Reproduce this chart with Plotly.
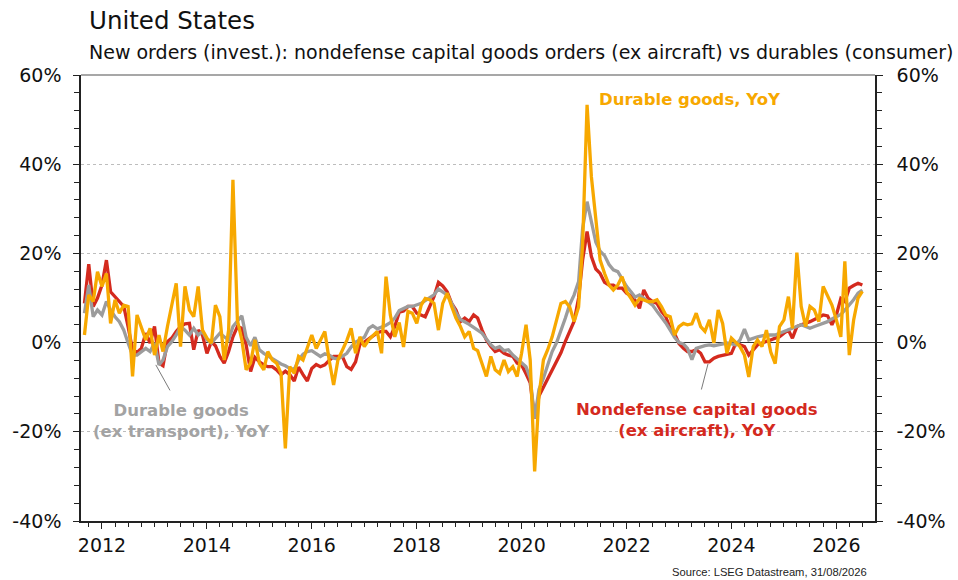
import pandas as pd
import plotly.graph_objects as go

# ---------------- data (monthly YoY %, Sep 2011 .. Jul 2026) ----------------
start_month = "2011-09-01"

nondef_capgoods = [  # Nondefense capital goods (ex aircraft), YoY
    8.8, 17.6, 8.1, 10.0,                                              # 2011 Sep-Dec
    12.9, 18.5, 11.4, 10.3, 9.2, 8.1, 3.6, -1.6, -2.2, -1.3, 2.1, -0.1,  # 2012
    3.6, -4.6, -5.2, 0.2, 1.0, 2.5, 3.6, 4.2, 4.3, -1.6, 2.8, 1.7,      # 2013
    -2.4, 0.2, -0.7, -3.1, -4.6, -2.0, 1.3, 3.6, 3.2, -0.5, -6.5, -3.3, # 2014
    -4.3, -5.0, -5.4, -5.4, -6.1, -7.2, -6.4, -7.2, -8.6, -5.5, -7.2, -8.6,  # 2015
    -5.8, -4.9, -5.4, -5.0, -4.0, -3.1, -3.1, -3.1, -5.4, -6.0, -4.3, -0.4,  # 2016
    0.1, 0.9, 1.6, 2.2, 2.5, 2.5, 1.3, 3.6, 6.8, 7.1, 8.1, 8.1,        # 2017
    6.6, 6.2, 5.8, 8.1, 10.3, 13.5, 12.7, 11.4, 8.8, 7.3, 4.7, 5.5,    # 2018
    4.7, 6.2, 5.5, 2.8, 0.6, -0.9, -2.0, -1.6, -2.4, -2.8, -3.1, -4.6, # 2019
    -5.0, -7.0, -9.0, -17.0, -12.0, -10.0, -8.2, -6.3, -4.2, -2.3, 0.3, 2.5,  # 2020
    4.8, 10.0, 18.5, 24.9, 19.3, 16.5, 15.5, 13.5, 12.9, 12.9, 12.2, 12.2,    # 2021
    11.1, 10.5, 9.5, 7.7, 11.8, 9.9, 9.2, 8.8, 7.0, 5.8, 3.2, 2.0,     # 2022
    -0.2, -1.3, -2.0, -2.0, -1.6, -2.4, -4.3, -4.3, -3.5, -3.1, -2.8, -2.6,  # 2023
    -2.4, -0.1, -0.5, -0.9, -2.8, -1.6, -0.5, -0.1, 0.2, 0.6, 1.0, 1.3,      # 2024
    2.1, 2.8, 1.0, 3.6, 4.0, 4.3, 4.7, 5.2, 5.8, 6.2, 6.0, 4.0,        # 2025
    6.2, 9.9, 9.2, 12.2, 12.8, 13.3, 12.9,                              # 2026 Jan-Jul
]

durables_ex_transport = [  # Durable goods (ex transport), YoY
    6.6, 12.9, 5.8, 7.3,
    6.2, 9.2, 7.3, 5.8, 4.7, 2.8, -0.1, -2.8, -2.8, -2.0, -1.3, -2.0,
    -0.1, -5.0, -3.9, -0.9, 0.2, 1.7, 3.6, 2.8, 1.7, 3.2, 1.7, 2.5,
    0.6, -0.1, 1.0, 2.1, 1.3, 0.6, 3.6, 4.7, 6.0, 1.2, -0.7, 1.2,
    -1.6, -2.4, -3.0, -3.5, -4.1, -4.8, -5.2, -5.8, -6.0, -3.9, -2.6, -2.0,
    -1.8, -2.5, -3.1, -2.5, -2.8, -3.5, -3.7, -3.1, -2.4, -1.0, 0.1, 0.6,
    1.2, 3.2, 3.8, 3.1, 3.4, 3.9, 4.5, 5.5, 7.2, 7.7, 8.1, 8.1,
    8.4, 8.8, 9.4, 10.0, 10.7, 12.0, 11.4, 10.7, 8.8, 6.7, 5.2, 4.7,
    4.1, 3.4, 2.8, 2.1, 0.8, -0.5, -1.3, -0.9, -1.8, -1.6, -2.8, -3.7,
    -4.5, -5.4, -8.0, -17.0, -10.5, -8.0, -5.0, -2.0, 0.0, 2.5, 5.5, 8.5,
    10.7, 13.7, 25.6, 31.6, 27.0, 22.5, 20.5, 19.5, 17.5, 16.3, 15.9, 14.1,
    12.6, 11.4, 10.2, 10.7, 9.9, 9.2, 8.4, 7.0, 5.8, 4.4, 2.8, 1.2,
    0.0, -0.3, -1.3, -3.8, -1.3, -0.9, -0.7, -0.5, -0.7, -0.5, -0.3, -0.1,
    -0.3, -0.5, 0.6, 3.0, 0.6, 1.0, 1.3, 1.5, 1.7, 1.7, 1.7, 2.1,
    2.5, 2.8, 3.2, 3.6, 4.0, 3.6, 3.2, 3.6, 4.0, 4.4, 4.7, 5.3,
    5.8, 6.3, 7.3, 8.5, 9.6, 11.1, 11.8,
]

durables = [  # Durable goods, YoY
    1.7, 10.7, 9.2, 15.9,
    12.6, 15.5, 4.3, 9.6, 6.6, 8.4, 8.1, -7.6, 6.2, 3.6, 0.6, 3.2,
    -2.8, 1.7, -2.0, 3.6, 8.1, 13.3, -0.9, 12.6, 7.3, 5.8, 12.6, 2.8,
    1.0, -0.1, 8.4, 5.8, -3.9, 2.8, 36.5, 5.0, 0.6, -6.1, -4.6, 0.6,
    -4.6, -6.1, -2.0, -3.9, -4.6, -6.9, -23.7, -5.4, -6.9, -3.1, -3.9, -1.0,
    1.7, -1.3, 0.5, 2.5, -3.9, -9.5, -3.9, -1.6, 0.5, 3.2, -2.4, 1.3,
    -0.9, 0.6, 1.5, 2.5, -2.4, 14.8, 6.2, 1.3, 4.5, -1.0, 7.0, 6.6,
    4.3, 8.4, 9.9, 9.6, 8.8, 2.8, 8.8, 11.1, 8.1, 5.5, 3.6, 1.3,
    2.5, -1.3, -1.8, -4.6, -7.6, -3.1, -6.1, -6.9, -3.9, -6.5, -5.4, -7.6,
    -2.4, 4.0, -3.9, -28.9, -12.0, -3.9, -1.6, 1.3, 5.1, 8.8, 9.2, 8.0,
    4.7, 8.0, 22.0, 53.3, 37.2, 27.5, 18.5, 15.5, 12.9, 11.8, 12.9, 14.8,
    11.4, 9.9, 8.4, 9.9, 9.6, 9.2, 9.2, 9.6, 8.1, 6.2, 5.8, 1.7,
    3.6, 4.3, 4.0, 4.2, 6.6, 3.6, 2.5, 5.1, -0.1, 7.3, 4.3, -2.4,
    1.0, -0.1, -0.9, -2.8, -7.7, -0.9, 0.6, -0.9, 2.8, -2.1, -4.7, 3.6,
    5.1, 10.3, 3.2, 20.2, 8.1, 3.6, 8.1, 7.3, 4.7, 12.6, 10.3, 8.4,
    5.1, 1.3, 18.2, -2.8, 5.0, 10.0, 11.5,
]

y_ticks = [-40, -20, 0, 20, 40, 60]
y_tick_labels = ["-40%", "-20%", "0%", "20%", "40%", "60%"]

dates = pd.date_range(start=start_month, periods=len(durables), freq="MS")

RED = "#D42A1E"
GRAY = "#9C9C9C"
ORANGE = "#F7A800"
FONT = "DejaVu Sans"

fig = go.Figure()
fig.add_trace(go.Scatter(x=dates, y=nondef_capgoods, mode="lines",
                         line=dict(color=RED, width=3.3), yaxis="y",
                         name="Nondefense capital goods (ex aircraft), YoY"))
fig.add_trace(go.Scatter(x=dates, y=durables_ex_transport, mode="lines",
                         line=dict(color=GRAY, width=3.3), yaxis="y2",
                         name="Durable goods (ex transport), YoY"))
fig.add_trace(go.Scatter(x=dates, y=durables, mode="lines",
                         line=dict(color=ORANGE, width=3.3), yaxis="y2",
                         name="Durable goods, YoY"))

yaxis_common = dict(
    range=[-40, 60], tickvals=y_ticks, ticktext=y_tick_labels,
    ticks="outside", ticklen=6, tickwidth=1, tickcolor="#222",
    showline=True, linecolor="#222", linewidth=1.5,
    tickfont=dict(family=FONT, size=19, color="#111"),
    minor=dict(dtick=4, ticks="outside", ticklen=5, tickcolor="#222", showgrid=False),
    fixedrange=True,
)

fig.update_layout(
    width=958, height=580,
    margin=dict(l=77, r=82, t=75, b=59),
    paper_bgcolor="white", plot_bgcolor="white",
    showlegend=False,
    xaxis=dict(
        type="date", range=["2011-08-08", "2026-09-27"],
        tick0="2012-01-01", dtick="M24", tickformat="%Y",
        ticks="outside", ticklen=6, tickcolor="#222",
        showline=True, linecolor="#222", linewidth=1.5,
        showgrid=False, zeroline=False, fixedrange=True,
        tickfont=dict(family=FONT, size=19, color="#111"),
        minor=dict(dtick="M3", ticks="outside", ticklen=4, tickcolor="#222", showgrid=False),
    ),
    yaxis=dict(**yaxis_common, side="left",
               showgrid=True, gridcolor="#BDBDBD", griddash="dot", gridwidth=1,
               zeroline=True, zerolinecolor="#333", zerolinewidth=1,
               ticklabelstandoff=8),
    yaxis2=dict(**yaxis_common, side="right", overlaying="y", matches="y",
                showgrid=False, zeroline=False, ticklabelstandoff=10),
    shapes=[dict(type="line", xref="paper", yref="paper", x0=0, x1=1, y0=1, y1=1,
                 line=dict(color="#8A8A8A", width=1.5))],
)

ann = []
ann.append(dict(text="United States", xref="paper", yref="paper", x=0.008, y=1.1233,
                xanchor="left", yanchor="middle", showarrow=False,
                font=dict(family=FONT, size=24.5, color="#111")))
ann.append(dict(text="New orders (invest.): nondefense capital goods orders (ex aircraft) vs durables (consumer)",
                xref="paper", yref="paper", x=0.008, y=1.0516,
                xanchor="left", yanchor="middle", showarrow=False,
                font=dict(family=FONT, size=19, color="#111")))
ann.append(dict(text="Source: LSEG Datastream, 31/08/2026", xref="paper", yref="paper",
                x=0.9925, y=-0.114, xanchor="right", yanchor="middle", showarrow=False,
                font=dict(family="Arial", size=11.2, color="#222")))
ann.append(dict(text="<b>Durable goods, YoY</b>", xref="paper", yref="paper",
                x=0.6496, y=0.944, xanchor="left", yanchor="middle", showarrow=False,
                font=dict(family=FONT, size=16.5, color=ORANGE)))
ann.append(dict(text="<b>Durable goods<br>(ex transport), YoY</b>", xref="paper", yref="paper",
                x=0.1264, y=0.2253, xanchor="center", yanchor="middle", align="center",
                showarrow=False, font=dict(family=FONT, size=16.5, color="#A3A3A3")))
ann.append(dict(text="<b>Nondefense capital goods<br>(ex aircraft), YoY</b>", xref="paper", yref="paper",
                x=0.776, y=0.2265, xanchor="center", yanchor="middle", align="center",
                showarrow=False, font=dict(family=FONT, size=16.5, color=RED)))
# leader lines
ann.append(dict(text="", x="2013-01-10", y=-5.0, xref="x", yref="y", showarrow=True,
                arrowhead=0, arrowwidth=1, arrowcolor="#7A7A7A", ax=15, ay=27, standoff=0))
ann.append(dict(text="", x="2023-07-22", y=-4.8, xref="x", yref="y", showarrow=True,
                arrowhead=0, arrowwidth=1, arrowcolor="#7A7A7A", ax=-7, ay=27, standoff=0))
fig.update_layout(annotations=ann)

fig.write_html("out.html", config={"displayModeBar": False},
               post_script="document.body.style.margin='0px';")
